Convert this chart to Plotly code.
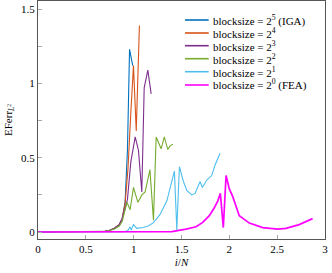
import plotly.graph_objects as go

# ---- data ----
iga_x = [0, 0.3, 0.6, 0.7, 0.75, 0.8, 0.85, 0.88, 0.91, 0.935, 0.957, 0.99]
iga_y = [0, 0, 0.001, 0.005, 0.012, 0.025, 0.05, 0.09, 0.2, 0.55, 1.23, 1.12]

b4_x = [0, 0.3, 0.6, 0.7, 0.75, 0.8, 0.85, 0.88, 0.91, 0.94, 0.97, 0.998, 1.027, 1.06]
b4_y = [0, 0, 0.001, 0.005, 0.012, 0.025, 0.05, 0.09, 0.19, 0.42, 0.8, 1.12, 0.68, 1.39]

b3_x = [0, 0.3, 0.6, 0.7, 0.75, 0.8, 0.85, 0.88, 0.91, 0.935, 0.97, 1.0, 1.016, 1.05, 1.085, 1.11, 1.148, 1.183]
b3_y = [0, 0, 0.001, 0.005, 0.012, 0.025, 0.05, 0.09, 0.16, 0.22, 0.47, 0.6, 0.64, 0.55, 0.27, 0.97, 1.09, 0.93]

b2_x = [0, 0.3, 0.6, 0.7, 0.75, 0.8, 0.85, 0.88, 0.93, 0.963, 0.998, 1.044, 1.086, 1.12, 1.17, 1.207,
        1.235, 1.287, 1.32, 1.357, 1.38, 1.41]
b2_y = [0, 0, 0.001, 0.004, 0.01, 0.02, 0.04, 0.07, 0.2, 0.15, 0.30, 0.2, 0.25, 0.27, 0.42, 0.08,
        0.64, 0.56, 0.64, 0.555, 0.58, 0.59]

b1_x = [0, 0.5, 0.85, 0.9, 0.94, 0.963, 0.974, 0.998, 1.033, 1.1, 1.15, 1.2, 1.242, 1.277, 1.347,
        1.381, 1.426, 1.451, 1.478, 1.52, 1.555, 1.607, 1.642, 1.694, 1.718, 1.764, 1.816, 1.85, 1.903]
b1_y = [0, 0, 0, 0.002, 0.01, 0.035, 0.013, 0.05, 0.025, 0.03, 0.04, 0.06, 0.09, 0.12, 0.21,
        0.3, 0.41, 0.013, 0.44, 0.34, 0.28, 0.25, 0.26, 0.34, 0.30, 0.35, 0.38, 0.45, 0.53]

fea_x = [0, 0.5, 1.0, 1.4, 1.548, 1.652, 1.722, 1.791, 1.84, 1.88, 1.906, 1.937, 1.966, 2.0,
         2.035, 2.104, 2.209, 2.349, 2.505, 2.592, 2.73, 2.87]
fea_y = [0, 0, 0, 0.003, 0.02, 0.035, 0.065, 0.11, 0.16, 0.21, 0.26, 0.03, 0.38, 0.29,
         0.24, 0.11, 0.06, 0.03, 0.02, 0.025, 0.05, 0.09]

names = ["blocksize = 2<sup>5</sup> (IGA)", "blocksize = 2<sup>4</sup>", "blocksize = 2<sup>3</sup>",
         "blocksize = 2<sup>2</sup>", "blocksize = 2<sup>1</sup>", "blocksize = 2<sup>0</sup> (FEA)"]
colors = ["#0072BD", "#D95319", "#7E2F8E", "#77AC30", "#4DBEEE", "#FF00FF"]
widths = [1.1, 1.1, 1.1, 1.1, 1.1, 1.7]
series = [(iga_x, iga_y), (b4_x, b4_y), (b3_x, b3_y), (b2_x, b2_y), (b1_x, b1_y), (fea_x, fea_y)]

W, H = 332, 273
ML, MR, MT, MB = 38, 7, 1, 34
FONT = "Times New Roman, Liberation Serif, DejaVu Serif, serif"

fig = go.Figure()
for (x, y), n, c, w in zip(series, names, colors, widths):
    fig.add_trace(go.Scatter(x=x, y=y, mode="lines", name=n, showlegend=False,
                             line=dict(color=c, width=w)))

# manual legend (compact rows like the reference)
pw = W - ML - MR
ph = H - MT - MB
def px2x(px):
    return (px - ML) / pw
def py2y(py):
    return (H - MB - py) / ph

row_py = [20, 33, 45.7, 58.7, 71.7, 85]
shapes = []
annotations = []
for n, c, ry in zip(names, colors, row_py):
    shapes.append(dict(type="line", xref="paper", yref="paper",
                       x0=px2x(185), x1=px2x(208.7), y0=py2y(ry), y1=py2y(ry),
                       line=dict(color=c, width=1.6)))
    annotations.append(dict(xref="paper", yref="paper", x=px2x(211), y=py2y(ry),
                            xanchor="left", yanchor="middle", text=n, showarrow=False,
                            font=dict(family=FONT, size=11, color="black")))

axis_common = dict(showline=True, mirror=True, linecolor="#555555", linewidth=1,
                   ticks="inside", ticklen=4, tickcolor="#aaaaaa", showgrid=False,
                   zeroline=False, tickfont=dict(family=FONT, size=11, color="black"))

fig.update_layout(
    width=W, height=H,
    margin=dict(l=ML, r=MR, t=MT, b=MB),
    paper_bgcolor="white", plot_bgcolor="white",
    font=dict(family=FONT, size=11, color="black"),
    shapes=shapes, annotations=annotations,
    xaxis=dict(range=[0, 3], dtick=0.5, tick0=0,
               title=dict(text="<i>i</i>/<i>N</i>", font=dict(family=FONT, size=11, color="black"), standoff=4),
               **axis_common),
    yaxis=dict(range=[-0.047, 1.555], tickvals=[0, 0.5, 1, 1.5], ticktext=["0", "0.5", "1", "1.5"],
               minor=dict(tickvals=[0.25, 0.75, 1.25], ticks="inside", ticklen=4, tickcolor="#aaaaaa"),
               title=dict(text="EFerr<sub><i>L</i><sup>2</sup></sub>", font=dict(family=FONT, size=11, color="black"), standoff=6),
               **axis_common),
    showlegend=False,
)

fig.write_html("out.html", config={"displayModeBar": False},
               post_script="document.body.style.margin='0';document.body.style.overflow='hidden';")
